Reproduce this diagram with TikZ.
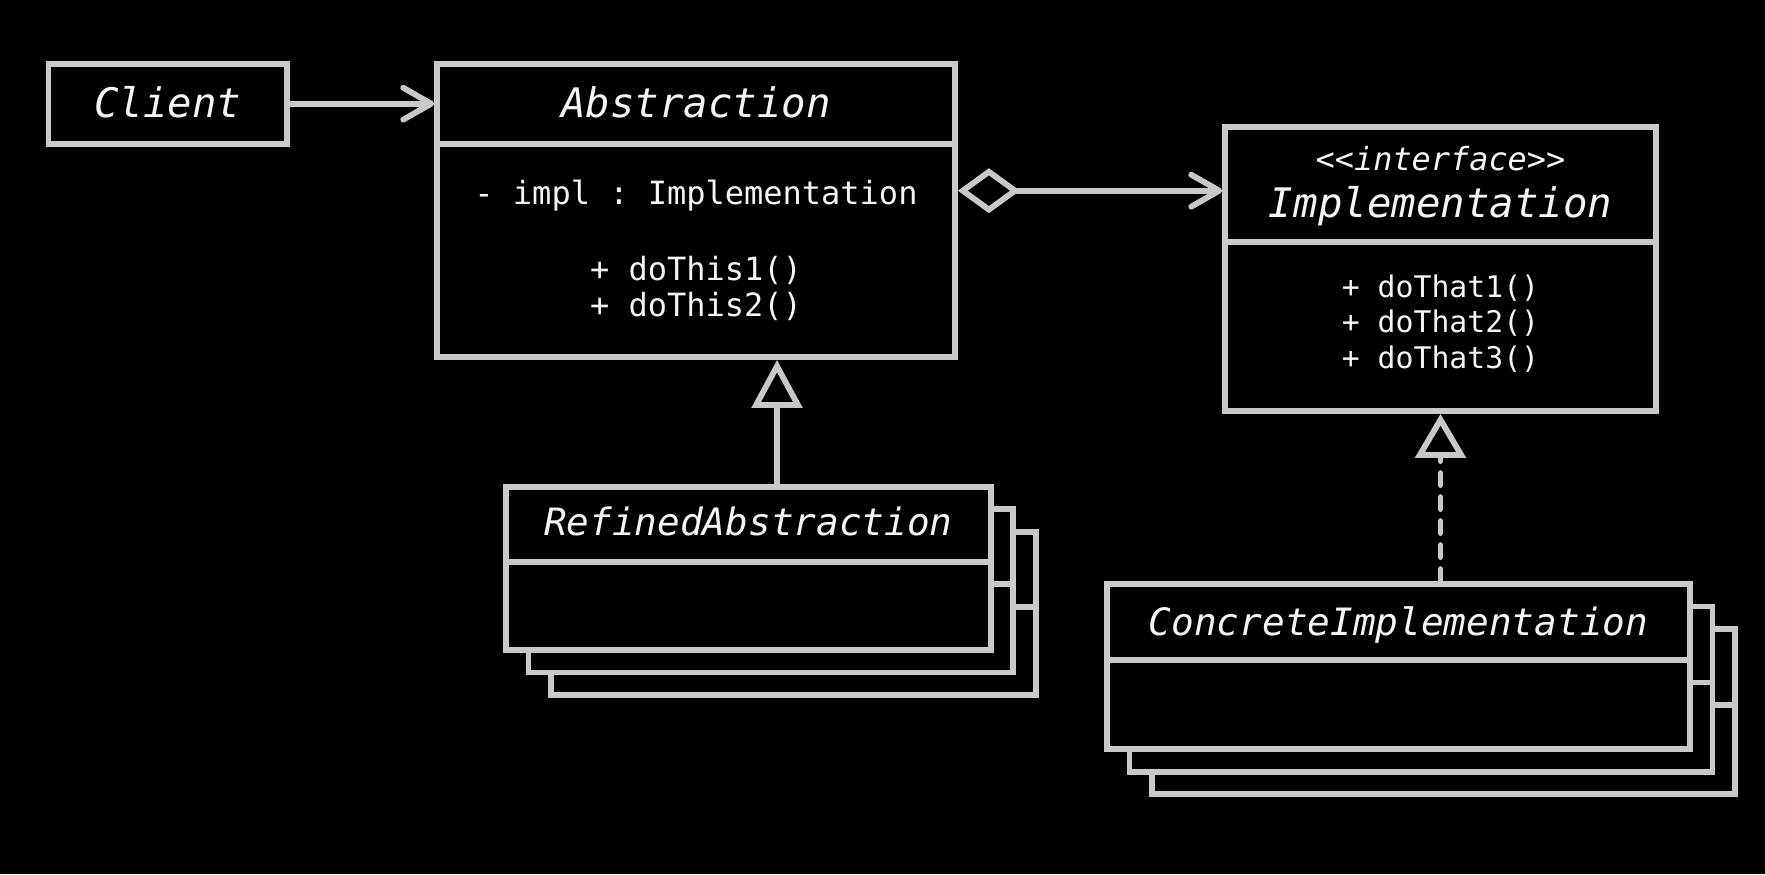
\documentclass[tikz,border=0pt]{standalone}
\usepackage{fontspec}
\setmonofont{DejaVu Sans Mono}
\usetikzlibrary{arrows.meta}
\definecolor{linegray}{RGB}{200,200,200}
\definecolor{textwhite}{RGB}{245,245,245}
\begin{document}
\begin{tikzpicture}[x=0.5pt,y=-0.5pt,
  box/.style={draw=linegray, line width=2.9pt, fill=black, inner sep=0pt, rectangle},
  txt/.style={text=textwhite, inner sep=0pt, anchor=base},
  title/.style={txt, font=\ttfamily\itshape\fontsize{20.35}{24}\selectfont},
  subtitle/.style={txt, font=\ttfamily\itshape\fontsize{18.85}{22}\selectfont},
  stereo/.style={txt, font=\ttfamily\itshape\fontsize{15.95}{19}\selectfont},
  member/.style={txt, font=\ttfamily\fontsize{16}{19}\selectfont},
  smallmember/.style={txt, font=\ttfamily\fontsize{14.9}{18}\selectfont},
  conn/.style={draw=linegray, line width=2.9pt, line cap=round},
  openhead/.style={-{Straight Barb[length=14pt,width=16pt,round]}},
  assoc/.style={conn, openhead},
  agg/.style={conn, {Diamond[fill=black,length=31pt,width=22.5pt]}-{Straight Barb[length=14pt,width=16pt,round]}},
  gen/.style={conn, -{Triangle[fill=black,length=24pt,width=25pt]}},
  real/.style={conn, -{Triangle[fill=black,length=22pt,width=25pt]}, dash pattern=on 6pt off 6pt}
]
\fill[black] (0,0) rectangle (1765,874);

% Client
\node[box, minimum width=119.25pt, minimum height=40pt] (client) at (167.75,103.7) {};
\node[title] (tclient) at (167.75,117.3) {Client};

% Abstraction
\node[box, minimum width=259pt, minimum height=40pt] (absh) at (696,103.7) {};
\node[box, minimum width=259pt, minimum height=106.65pt] (absb) at (696,250.35) {};
\node[title] (tabs) at (696,117.3) {Abstraction};
\node[member] (timplf) at (696,204.3) {- impl : Implementation};
\node[member] (tdo1) at (696,280) {+ doThis1()};
\node[member] (tdo2) at (696,316.7) {+ doThis2()};

% Implementation
\node[box, minimum width=215.5pt, minimum height=57.5pt] (implh) at (1440.5,184.2) {};
\node[box, minimum width=215.5pt, minimum height=84.65pt] (implb) at (1440.5,326.35) {};
\node[stereo] (tiface) at (1440.5,170.7) {<<interface>>};
\node[title] (timpl) at (1440.5,217) {Implementation};
\node[smallmember] (tdt1) at (1440.5,297.3) {+ doThat1()};
\node[smallmember] (tdt2) at (1440.5,332.7) {+ doThat2()};
\node[smallmember] (tdt3) at (1440.5,368.3) {+ doThat3()};

% RefinedAbstraction stack
\node[box, minimum width=242.35pt, minimum height=37.5pt] (rh3) at (793.35,569.2) {};
\node[box, minimum width=242.35pt, minimum height=44.15pt] (rb3) at (793.35,650.85) {};
\node[box, minimum width=242.35pt, minimum height=37.5pt] (rh2) at (770.85,546.7) {};
\node[box, minimum width=242.35pt, minimum height=44.15pt] (rb2) at (770.85,628.35) {};
\node[box, minimum width=242.35pt, minimum height=37.5pt] (rh1) at (748.35,524.2) {};
\node[box, minimum width=242.35pt, minimum height=44.15pt] (rb1) at (748.35,605.85) {};
\node[subtitle] (tref) at (748.35,535.7) {RefinedAbstraction};

% ConcreteImplementation stack
\node[box, minimum width=291.5pt, minimum height=38pt] (ch3) at (1443.5,667) {};
\node[box, minimum width=291.5pt, minimum height=44.65pt] (cb3) at (1443.5,749.65) {};
\node[box, minimum width=291.5pt, minimum height=38pt] (ch2) at (1421,644.5) {};
\node[box, minimum width=291.5pt, minimum height=44.65pt] (cb2) at (1421,727.15) {};
\node[box, minimum width=291.5pt, minimum height=38pt] (ch1) at (1398.5,622) {};
\node[box, minimum width=291.5pt, minimum height=44.65pt] (cb1) at (1398.5,704.65) {};
\node[subtitle] (tcon) at (1398.5,635) {ConcreteImplementation};

% connectors
\coordinate (aggy) at (0,190.7);
\coordinate (genx) at (777,0);
\draw[assoc] (client.east) -- (absh.west);
\draw[agg] (absb.east |- aggy) -- (implh.west |- aggy);
\draw[gen] (rh1.north -| genx) -- (absb.south -| genx);
\draw[real] (ch1.north -| implb.south) -- (implb.south);
\end{tikzpicture}
\end{document}
